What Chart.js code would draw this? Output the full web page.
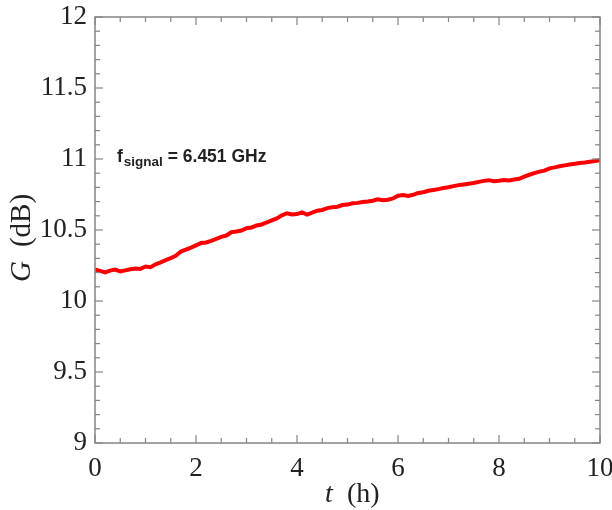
<!DOCTYPE html>
<html>
<head>
<meta charset="utf-8">
<script src="https://cdn.jsdelivr.net/npm/chart.js@4.4.1/dist/chart.umd.min.js"></script>
<style>
  html, body { margin: 0; padding: 0; background: #fff; }
  #wrap { width: 612px; height: 510px; }
</style>
</head>
<body>
<div id="wrap"><canvas id="myChart" width="612" height="510"></canvas></div>
<script>
// time (h) and gain (dB)
var timeH = [
  0.0, 0.1, 0.2, 0.3, 0.4, 0.5, 0.6, 0.7, 0.8, 0.9,
  1.0, 1.1, 1.2, 1.3, 1.4, 1.5, 1.6, 1.7, 1.8, 1.9,
  2.0, 2.1, 2.2, 2.3, 2.4, 2.5, 2.6, 2.7, 2.8, 2.9,
  3.0, 3.1, 3.2, 3.3, 3.4, 3.5, 3.6, 3.7, 3.8, 3.9,
  4.0, 4.1, 4.2, 4.3, 4.4, 4.5, 4.6, 4.7, 4.8, 4.9,
  5.0, 5.1, 5.2, 5.3, 5.4, 5.5, 5.6, 5.7, 5.8, 5.9,
  6.0, 6.1, 6.2, 6.3, 6.4, 6.5, 6.6, 6.7, 6.8, 6.9,
  7.0, 7.1, 7.2, 7.3, 7.4, 7.5, 7.6, 7.7, 7.8, 7.9,
  8.0, 8.1, 8.2, 8.3, 8.4, 8.5, 8.6, 8.7, 8.8, 8.9,
  9.0, 9.1, 9.2, 9.3, 9.4, 9.5, 9.6, 9.7, 9.8, 9.9, 10.0
];
var gainDb = [
  10.222, 10.212, 10.201, 10.214, 10.221, 10.208, 10.216, 10.224, 10.229, 10.226,
  10.243, 10.238, 10.258, 10.272, 10.288, 10.302, 10.318, 10.348, 10.362, 10.376,
  10.392, 10.408, 10.412, 10.424, 10.438, 10.452, 10.461, 10.484, 10.489, 10.496,
  10.512, 10.518, 10.532, 10.539, 10.553, 10.568, 10.582, 10.603, 10.618, 10.609,
  10.612, 10.624, 10.609, 10.622, 10.636, 10.641, 10.654, 10.661, 10.664, 10.676,
  10.679, 10.688, 10.691, 10.697, 10.701, 10.706, 10.716, 10.709, 10.713, 10.722,
  10.741, 10.746, 10.739, 10.748, 10.761, 10.766, 10.776, 10.782, 10.788, 10.796,
  10.801, 10.809, 10.816, 10.821, 10.826, 10.831, 10.839, 10.846, 10.851, 10.844,
  10.847, 10.852, 10.849, 10.856, 10.861, 10.876, 10.889, 10.901, 10.911, 10.918,
  10.934, 10.941, 10.949, 10.955, 10.961, 10.966, 10.972, 10.976, 10.981, 10.986, 10.992
];
var yTicks = [9, 9.5, 10, 10.5, 11, 11.5, 12];
var xTicks = [0, 2, 4, 6, 8, 10];

var serif = "'Liberation Serif', 'Times New Roman', serif";
var frameColor = "#858585";

Chart.defaults.font.family = serif;
Chart.defaults.font.size = 27;
Chart.defaults.color = "#222";

var points = timeH.map(function (t, i) { return { x: t, y: gainDb[i] }; });

function seg(ctx, x1, y1, x2, y2) {
  ctx.beginPath();
  ctx.moveTo(x1, y1);
  ctx.lineTo(x2, y2);
  ctx.stroke();
}

var framePlugin = {
  id: "frame",
  afterDraw: function (chart) {
    var ctx = chart.ctx, a = chart.chartArea;
    var x = chart.scales.x, y = chart.scales.y;
    ctx.save();
    ctx.strokeStyle = frameColor;
    ctx.lineWidth = 1.5;
    ctx.strokeRect(a.left, a.top, a.right - a.left, a.bottom - a.top);
    ctx.lineWidth = 1.2;
    // x ticks: major every 2, minor every 0.5
    for (var i = 0; i <= 20; i++) {
      var px = x.getPixelForValue(i * 0.5);
      var len = i % 4 === 0 ? 8 : 5;
      seg(ctx, px, a.bottom, px, a.bottom - len);
      seg(ctx, px, a.top, px, a.top + len);
    }
    // y ticks: major every 0.5, minor every 0.1
    for (var j = 0; j <= 30; j++) {
      var py = y.getPixelForValue(9 + j * 0.1);
      var ylen = j % 5 === 0 ? 8 : 5;
      seg(ctx, a.left, py, a.left + ylen, py);
      seg(ctx, a.right, py, a.right - ylen, py);
    }

    // axis titles
    ctx.fillStyle = "#222";
    ctx.textBaseline = "alphabetic";
    ctx.textAlign = "left";
    ctx.font = "italic 28px " + serif;
    ctx.fillText("t", 325, 502);
    ctx.font = "28px " + serif;
    ctx.fillText("(h)", 347, 502);

    ctx.save();
    ctx.translate(30, 282);
    ctx.rotate(-Math.PI / 2);
    ctx.font = "italic 29px " + serif;
    var gW = ctx.measureText("G").width;
    ctx.fillText("G", 0, 0);
    ctx.font = "29px " + serif;
    ctx.fillText("(dB)", gW + 14, 0);
    ctx.restore();

    // annotation
    var ax = 117, ay = 162;
    ctx.font = 'bold 17.5px "Liberation Sans", Arial, sans-serif';
    ctx.fillText("f", ax, ay);
    ax += ctx.measureText("f").width + 1;
    ctx.font = 'bold 13.5px "Liberation Sans", Arial, sans-serif';
    ctx.fillText("signal", ax, ay + 4);
    ax += ctx.measureText("signal").width;
    ctx.font = 'bold 17.5px "Liberation Sans", Arial, sans-serif';
    ctx.fillText(" = 6.451 GHz", ax, ay);
    ctx.restore();
  }
};

var ctx = document.getElementById("myChart").getContext("2d");

var graphData = {
  type: "line",
  data: {
    datasets: [
      {
        label: "G",
        data: points,
        borderColor: "rgb(250, 0, 0)",
        backgroundColor: "rgb(250, 0, 0)",
        borderWidth: 4,
        pointRadius: 0,
        tension: 0,
        fill: false,
      },
    ],
  },
  options: {
    responsive: false,
    animation: false,
    layout: { padding: { left: 0, right: 12, top: 17, bottom: 0 } },
    plugins: { legend: { display: false }, tooltip: { enabled: false } },
    scales: {
      x: {
        type: "linear",
        min: 0,
        max: 10,
        grid: { display: false, drawTicks: false },
        border: { display: false },
        afterBuildTicks: function (s) { s.ticks = xTicks.map(function (v) { return { value: v }; }); },
        afterFit: function (s) { s.height = 67; s.paddingLeft = 0; s.paddingRight = 0; },
        ticks: {
          color: "#222", padding: 10, maxRotation: 0,
          font: { family: serif, size: 27 },
          callback: function (v) { return String(v); },
        },
      },
      y: {
        type: "linear",
        min: 9,
        max: 12,
        grid: { display: false, drawTicks: false },
        border: { display: false },
        afterBuildTicks: function (s) { s.ticks = yTicks.map(function (v) { return { value: v }; }); },
        afterFit: function (s) { s.width = 95; s.paddingTop = 0; s.paddingBottom = 0; },
        ticks: {
          color: "#222", padding: 8,
          font: { family: serif, size: 27 },
          callback: function (v) { return String(v); },
        },
      },
    },
  },
  plugins: [framePlugin],
};
var myChart = new Chart(ctx, graphData);
</script>
</body>
</html>
